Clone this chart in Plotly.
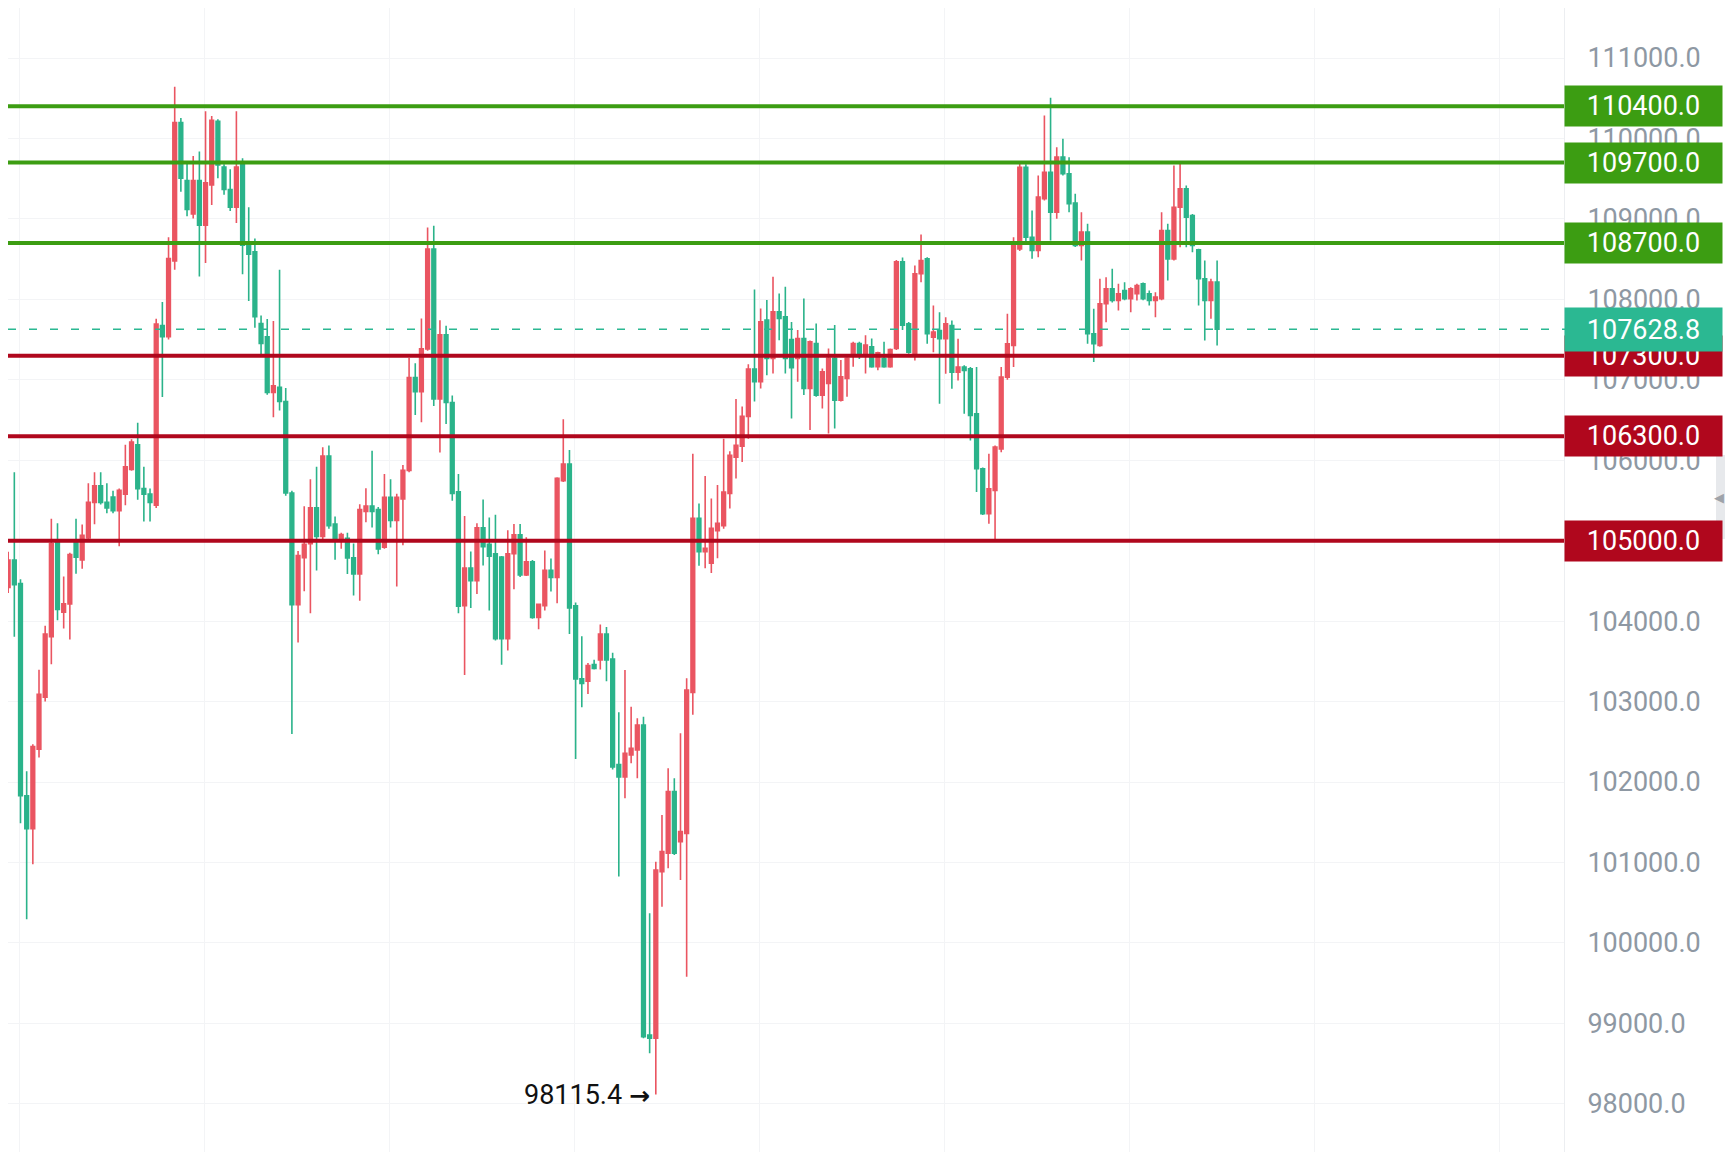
import plotly.graph_objects as go

# ---------------- data ----------------
OPEN = [104795, 104420, 104760, 104467, 101829, 101420, 102408, 103056, 103806, 104999,
        104112, 104215, 104999, 104760, 105033, 105476, 105681, 105476, 105544, 105374,
        105579, 105885, 106192, 105647, 105579, 105442, 107674, 107535, 108478, 110199,
        109478, 109061, 109478, 108923, 109422, 110215, 109644, 109366, 109145, 109672,
        108673, 108590, 107700, 107535, 106842, 106908, 106731, 105593, 104206, 104788,
        104964, 105408, 105053, 106052, 105208, 105009, 105031, 104787, 104587, 105364,
        105430, 105386, 104920, 105541, 105253, 105519, 105874, 107028, 106851, 107384,
        108627, 106762, 107561, 106718, 105608, 104192, 104661, 104503, 105160, 104954,
        104837, 104796, 103781, 104837, 105072, 104573, 104738, 104045, 104192, 104632,
        104544, 105747, 105952, 104192, 103283, 103253, 103459, 103517, 103840, 103528,
        102217, 102062, 102336, 102398, 102709, 98856, 98815, 100886, 101114, 101881,
        101259, 101362, 103113, 105278, 104863, 104721, 105123, 105185, 105587, 106038,
        106174, 106545, 107133, 106976, 107742, 107266, 107846, 107783, 107500, 107266,
        107514, 106893, 107452, 106810, 106955, 107266, 106748, 107017, 107307, 107452,
        107307, 107411, 107162, 107266, 107162, 107390, 108467, 107696, 107323, 108318,
        108504, 107530, 107613, 107510, 107675, 107095, 107158, 107137, 106578, 105894,
        105335, 105625, 106142, 107033, 107427, 108628, 109643, 108773, 108608, 109250,
        109581, 109084, 109768, 109561, 109196, 108670, 108836, 107572, 107427, 107945,
        108131, 107986, 108111, 108007, 108069, 108193, 108069, 107986, 108007, 108856,
        108504, 109146, 109374, 109043, 108616, 108256, 107986, 108214]

HIGH = [105170, 104862, 105851, 104522, 102135, 102470, 103397, 103942, 105272, 105217,
        104556, 104850, 105272, 105200, 105715, 105851, 105851, 105715, 105620, 105650,
        106192, 106260, 106465, 105920, 105650, 107760, 107968, 108773, 110643, 110254,
        109700, 109783, 109838, 110337, 110280, 110240, 109680, 109616, 110337, 109755,
        109145, 108756, 107800, 107757, 107730, 108368, 106897, 105620, 104872, 105427,
        105763, 105918, 106163, 106185, 105300, 105100, 105100, 104964, 105453, 105652,
        106118, 105420, 105830, 105763, 105585, 105940, 107272, 107206, 107761, 108893,
        108915, 107739, 107672, 106806, 105830, 105307, 104867, 105218, 105512, 105289,
        105324, 104810, 105130, 105207, 105207, 105043, 104760, 104220, 104878, 104779,
        105790, 106509, 106128, 104233, 103811, 103480, 103520, 103957, 103928, 103608,
        102866, 103393, 102937, 102792, 102813, 100368, 101010, 101591, 102171, 102046,
        102606, 103289, 106082, 105463, 105803, 105525, 105692, 106267, 106113, 106762,
        106669, 107195, 108122, 107887, 107991, 108281, 108073, 108156, 107720, 107618,
        108011, 107490, 107701, 107141, 107390, 107680, 107245, 107280, 107473, 107473,
        107555, 107514, 107350, 107473, 107390, 108488, 108521, 107720, 108421, 108807,
        108525, 107924, 107841, 107779, 107738, 107510, 107180, 107160, 107158, 105910,
        106080, 106184, 107158, 107821, 108773, 109706, 109680, 109105, 109540, 110286,
        110505, 109892, 109996, 109768, 109312, 109084, 108939, 107883, 108256, 108276,
        108380, 108193, 108214, 108150, 108193, 108210, 108110, 108090, 109084, 108939,
        109664, 109685, 109416, 109060, 108628, 108483, 108256, 108483]

LOW = [104317, 104351, 103806, 101487, 100295, 100977, 102306, 103000, 103465, 104010,
       103908, 103772, 104590, 104650, 105000, 105203, 105450, 105340, 105340, 104931,
       105442, 105870, 105510, 105238, 105238, 105408, 106786, 107500, 108368, 109339,
       109034, 109006, 108284, 108451, 109172, 109505, 109300, 109100, 108950, 108312,
       107979, 107646, 107286, 106814, 106536, 106620, 105560, 102597, 103734, 104373,
       104099, 104631, 104990, 105150, 104764, 104900, 104587, 104320, 104254, 105230,
       105164, 104831, 104900, 105164, 104431, 104942, 105852, 106562, 106473, 107361,
       106673, 106096, 106451, 105497, 104099, 103330, 104163, 104339, 104691, 104133,
       103760, 103459, 103635, 104397, 104550, 104560, 104030, 103899, 104133, 104368,
       104221, 105730, 103840, 102285, 102931, 103095, 103400, 103400, 103253, 102155,
       100825, 101798, 102233, 102046, 98815, 98628, 98115.4, 100451, 100928, 101093,
       100783, 99581, 102835, 104690, 104659, 104597, 104783, 105150, 105401, 105772,
       105977, 106267, 106731, 106893, 107058, 107079, 107493, 107079, 106520, 106976,
       106810, 106375, 106790, 106644, 106333, 106396, 106730, 106789, 107162, 107260,
       107079, 107150, 107120, 107150, 107150, 107370, 107618, 107323, 107240, 108214,
       107448, 107344, 106702, 107075, 106888, 106992, 106578, 106246, 105604, 105320,
       105210, 105003, 106101, 107000, 107158, 108600, 108690, 108504, 108525, 109230,
       108732, 109001, 109540, 109084, 108650, 108483, 107448, 107220, 107410, 107717,
       107960, 107862, 107990, 107841, 107986, 107990, 107924, 107779, 107990, 108235,
       108483, 108649, 108649, 108587, 107924, 107489, 107758, 107427]

CLOSE = [104453, 104760, 104453, 101829, 101420, 102442, 103090, 103840, 104965, 104146,
         104215, 104828, 104794, 105067, 105476, 105681, 105476, 105408, 105374, 105626,
         105919, 106226, 105647, 105579, 105476, 107692, 107535, 108506, 110199, 109505,
         109117, 109478, 108923, 109450, 110227, 109672, 109366, 109145, 109644, 108673,
         108562, 107785, 107452, 106842, 106925, 106731, 105593, 104206, 104816, 104955,
         105408, 105053, 106052, 105186, 105031, 105075, 104787, 104587, 105386, 105430,
         105364, 104897, 105541, 105253, 105541, 105874, 107028, 106851, 107384, 108627,
         106762, 107561, 106718, 105586, 104187, 104661, 104503, 105160, 104925, 104808,
         103781, 103781, 104837, 105072, 104573, 104738, 104045, 104210, 104632, 104544,
         105776, 105952, 104163, 103283, 103224, 103447, 103412, 103840, 103517, 102186,
         102062, 102357, 102419, 102709, 98835, 98815, 100907, 101135, 101881, 101114,
         101383, 103144, 105278, 104863, 104907, 105154, 105216, 105605, 106063, 106187,
         106545, 107133, 106978, 107721, 107266, 107846, 107763, 107266, 107150, 107514,
         106893, 107473, 106810, 107100, 107266, 106748, 107038, 107266, 107452, 107307,
         107431, 107162, 107336, 107162, 107377, 108467, 107680, 107344, 108318, 108483,
         107572, 107593, 107510, 107696, 107095, 107158, 107116, 106557, 105894, 105335,
         105645, 106163, 107033, 107448, 108690, 109643, 108773, 108608, 109271, 109581,
         109084, 109768, 109561, 109188, 108670, 108836, 107572, 107448, 107945, 108131,
         107986, 108069, 108007, 108131, 108173, 108007, 107986, 108028, 108856, 108504,
         109146, 109374, 109022, 108670, 108256, 107986, 108214, 107628.8]

RESISTANCE = [110400, 109700, 108700]
SUPPORT = [107300, 106300, 105000]
LAST_PRICE = 107628.8
LOW_MARK = 98115.4
Y_TICKS = [98000, 99000, 100000, 101000, 102000, 103000, 104000, 105000,
           106000, 107000, 108000, 109000, 110000, 111000]

# ---------------- style ----------------
UP = "#ea5561"      # rising candles (red)
DOWN = "#2bb38a"    # falling candles (green)
RES_COL = "#3c9d12"
SUP_COL = "#b0071d"
LAST_COL = "#2bb892"
FONT = "Roboto"

# figure is placed by the page with an 8px body margin
FIG_W, FIG_H = 1725, 1144
R_MARGIN = 169
PLOT_W = FIG_W - R_MARGIN

x = list(range(len(CLOSE)))
low_idx = LOW.index(min(LOW))

fig = go.Figure()
fig.add_trace(go.Candlestick(
    x=x, open=OPEN, high=HIGH, low=LOW, close=CLOSE,
    increasing=dict(line=dict(color=UP, width=1.6), fillcolor=UP),
    decreasing=dict(line=dict(color=DOWN, width=1.6), fillcolor=DOWN),
    whiskerwidth=0, hoverinfo="skip", showlegend=False,
))

shapes = []
annotations = []
for v in RESISTANCE:
    shapes.append(dict(type="line", xref="paper", yref="y", x0=0, x1=1, y0=v, y1=v,
                       line=dict(color=RES_COL, width=4), layer="above"))
for v in SUPPORT:
    shapes.append(dict(type="line", xref="paper", yref="y", x0=0, x1=1, y0=v, y1=v,
                       line=dict(color=SUP_COL, width=4), layer="above"))
shapes.append(dict(type="line", xref="paper", yref="y", x0=0, x1=1.01,
                   y0=LAST_PRICE, y1=LAST_PRICE,
                   line=dict(color=LAST_COL, width=1.5, dash="8px,13px"), layer="above"))
# side handle on the right edge
shapes.append(dict(type="rect", xref="paper", yref="paper",
                   x0=1708 / PLOT_W, x1=1.2, y0=1 - 531 / FIG_H, y1=1 - 447 / FIG_H,
                   fillcolor="#e7e9ec", line=dict(width=0), layer="above"))
annotations.append(dict(xref="paper", yref="paper", x=1718 / PLOT_W, y=1 - 489 / FIG_H,
                        text="◀", showarrow=False,
                        font=dict(size=13, color="#9ea3a9", family=FONT)))


def level_label(v, col, h=40):
    return dict(xref="paper", yref="y", x=1.0, y=v, xanchor="left", yanchor="middle",
                text=f"{v:.1f}", showarrow=False, width=157, height=h, borderpad=0,
                bgcolor=col, align="center",
                font=dict(size=27, color="white", family=FONT))


for v in RESISTANCE:
    annotations.append(level_label(v, RES_COL))
for v in SUPPORT:
    annotations.append(level_label(v, SUP_COL))
annotations.append(level_label(LAST_PRICE, LAST_COL, h=43))

annotations.append(dict(
    xref="x", yref="y", x=low_idx, y=LOW_MARK, xanchor="right", yanchor="middle",
    xshift=-4,
    text=f"{LOW_MARK} <span style='font-family:DejaVu Sans;font-weight:bold;font-size:25px'>→</span>",
    showarrow=False, font=dict(size=27, color="#111111", family=FONT)))

fig.update_layout(
    width=FIG_W, height=FIG_H,
    margin=dict(l=0, r=R_MARGIN, t=0, b=0),
    paper_bgcolor="white", plot_bgcolor="white",
    font=dict(family=FONT),
    showlegend=False,
    boxgap=0.15,
    shapes=shapes, annotations=annotations,
    xaxis=dict(range=[0.973, 253.24], rangeslider=dict(visible=False),
               showticklabels=False, ticks="", tickmode="linear", tick0=2.85, dtick=30,
               showgrid=True, gridcolor="#f3f4f6", gridwidth=1, zeroline=False,
               showline=False, fixedrange=True),
    yaxis=dict(side="right", range=[97401, 111622], tickmode="array",
               tickvals=Y_TICKS, ticktext=[f"{t:.1f}" for t in Y_TICKS],
               tickfont=dict(size=27, color="#8e98a3", family=FONT),
               ticks="", ticklabelstandoff=17,
               showgrid=True, gridcolor="#f3f4f6", gridwidth=1, zeroline=False,
               showline=True, linecolor="#eceef1", linewidth=1, fixedrange=True),
)

fig.write_html("out.html")
